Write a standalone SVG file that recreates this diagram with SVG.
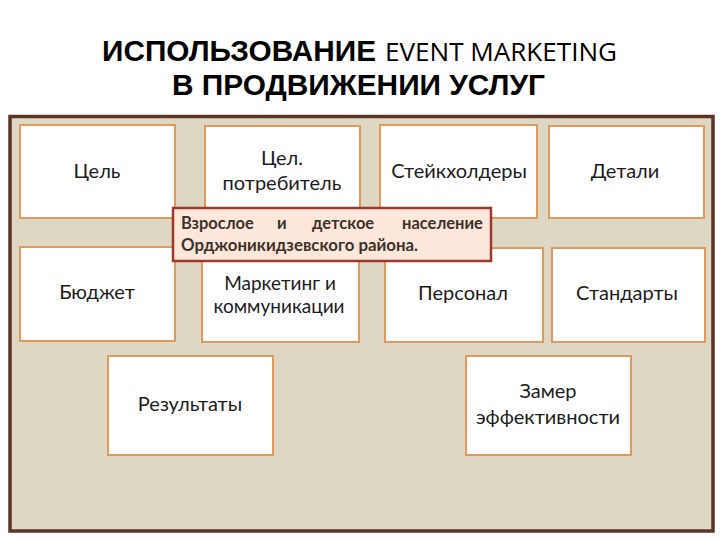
<svg xmlns="http://www.w3.org/2000/svg" width="720" height="540" viewBox="0 0 720 540">
<style>
.title{font-family:"Liberation Sans",Arial,sans-serif;font-weight:bold;font-size:29px;fill:#000}
.title2{font-family:"Open Sans","Liberation Sans",sans-serif;font-size:25px;fill:#000}
.box{fill:#fff;stroke:#df9a5c;stroke-width:2}
.lbl{font-family:Lato,"Open Sans",sans-serif;font-size:20px;fill:#1c1c1c;text-anchor:middle}
.sm{font-size:19px}
.call{fill:#fde6da;stroke:#9e3a2b;stroke-width:2.5}
.ctext{font-family:Lato,"Open Sans",sans-serif;font-weight:bold;font-size:16.5px;fill:#3d322b}
</style>
<rect width="720" height="540" fill="#fff"/>
<g id="title">
<text class="title" x="102" y="61" textLength="274" lengthAdjust="spacingAndGlyphs">ИСПОЛЬЗОВАНИЕ</text>
<text class="title2" x="385" y="61" textLength="232" lengthAdjust="spacingAndGlyphs">EVENT MARKETING</text>
<text class="title" x="172" y="95" textLength="373" lengthAdjust="spacingAndGlyphs">В ПРОДВИЖЕНИИ УСЛУГ</text>
</g>
<rect id="frame" x="10" y="116.5" width="703" height="414.5" fill="#ddd7c3" stroke="#5b3426" stroke-width="3.5"/>
<g id="n-goal"><rect class="box" x="20" y="125" width="155" height="93"/><text class="lbl" x="97" y="178">Цель</text></g>
<g id="n-consumer"><rect class="box" x="205" y="126" width="155" height="92"/><text class="lbl" x="282" y="165">Цел.</text><text class="lbl" x="282" y="190">потребитель</text></g>
<g id="n-stake"><rect class="box" x="380" y="125" width="157" height="93"/><text class="lbl" x="459" y="178">Стейкхолдеры</text></g>
<g id="n-details"><rect class="box" x="549" y="126" width="155" height="92"/><text class="lbl" x="625" y="178">Детали</text></g>
<g id="n-budget"><rect class="box" x="20" y="247" width="155" height="94"/><text class="lbl" x="97" y="299">Бюджет</text></g>
<g id="n-marketing"><rect class="box" x="202" y="247" width="157" height="95"/><text class="lbl sm" x="280" y="290">Маркетинг и</text><text class="lbl sm" x="279" y="313">коммуникации</text></g>
<g id="n-staff"><rect class="box" x="385" y="248" width="158" height="94"/><text class="lbl" x="463" y="300">Персонал</text></g>
<g id="n-standards"><rect class="box" x="552" y="248" width="153" height="94"/><text class="lbl" x="627" y="300">Стандарты</text></g>
<g id="n-results"><rect class="box" x="108" y="356" width="165" height="99"/><text class="lbl" x="190" y="411">Результаты</text></g>
<g id="n-measure"><rect class="box" x="466" y="356" width="165" height="99"/><text class="lbl" x="548" y="398">Замер</text><text class="lbl" x="548" y="424">эффективности</text></g>
<g id="callout"><rect class="call" x="173" y="208" width="318" height="53"/>
<text class="ctext" y="229"><tspan x="181">Взрослое</tspan><tspan x="277">и</tspan><tspan x="312">детское</tspan><tspan x="402">население</tspan></text>
<text class="ctext" x="181" y="251" textLength="237" lengthAdjust="spacingAndGlyphs">Орджоникидзевского района.</text>
</g>
<g id="connectors"/>
</svg>
